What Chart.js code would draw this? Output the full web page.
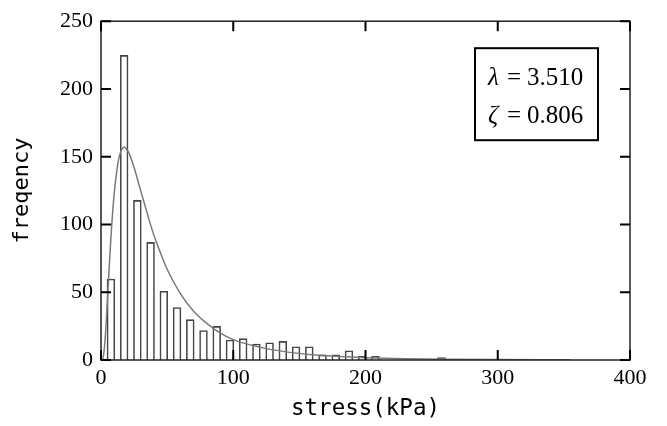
<!DOCTYPE html>
<html>
<head>
<meta charset="utf-8">
<script src="https://cdn.jsdelivr.net/npm/chart.js@4/dist/chart.umd.min.js"></script>
<style>
  html, body { margin: 0; padding: 0; background: #fff; }
</style>
</head>
<body>
<canvas id="grafico" width="667" height="426"></canvas>
<script>
// Centros de clase (kPa) y frecuencias del histograma
const centrosClase = [7.5, 17.5, 27.5, 37.5, 47.5, 57.5, 67.5, 77.5, 87.5, 97.5,
  107.5, 117.5, 127.5, 137.5, 147.5, 157.5, 167.5, 177.5, 187.5, 197.5,
  207.5, 217.5, 227.5, 237.5, 247.5, 257.5];
const frecuencias = [60, 225, 118, 87, 51, 39, 30, 22, 25, 15,
  16, 12, 13, 14, 10, 10, 4, 4, 7, 3,
  3, 0, 0, 0, 0, 2];

// Curva ajustada (lognormal)
const curvaX = [0, 1, 2, 3, 4, 5, 6, 7, 8, 10, 12, 14, 17.5, 21, 25, 30, 35, 40, 45, 50,
  60, 70, 80, 90, 100, 120, 140, 160, 180, 200, 230, 260, 300, 355];
const curvaY = [0, 0.3, 4.2, 14, 29, 47, 65, 82, 98, 123, 140, 151, 157, 153, 142, 125, 108, 92, 79, 67,
  49, 36, 27, 20, 15, 9.5, 6, 3.8, 2.5, 1.7, 1, 0.6, 0.3, 0.15];

// Parametros y etiquetas
const parametros = [["λ", "3.510"], ["ζ", "0.806"]];
const ticksX = [0, 100, 200, 300, 400];
const ticksY = [0, 50, 100, 150, 200, 250];

const fuenteNum = "'Liberation Serif', 'Times New Roman', serif";
const fuenteTitulo = "'DejaVu Sans Mono', monospace";

// Marco con marcas hacia dentro y cuadro de parametros
const marcoPlugin = {
  id: "marco",
  afterDatasetsDraw(chart) {
    const { ctx, chartArea: a, scales: { x, y } } = chart;
    const largo = 10;
    ctx.save();
    ctx.strokeStyle = "#222";
    ctx.lineWidth = 1.5;
    ctx.strokeRect(a.left, a.top, a.right - a.left, a.bottom - a.top);

    ctx.strokeStyle = "#000";
    ctx.lineWidth = 2;
    ctx.beginPath();
    ticksX.forEach((v) => {
      const px = x.getPixelForValue(v);
      ctx.moveTo(px, a.bottom);
      ctx.lineTo(px, a.bottom - largo);
      ctx.moveTo(px, a.top);
      ctx.lineTo(px, a.top + largo);
    });
    ticksY.forEach((v) => {
      const py = y.getPixelForValue(v);
      ctx.moveTo(a.left, py);
      ctx.lineTo(a.left + largo, py);
      ctx.moveTo(a.right, py);
      ctx.lineTo(a.right - largo, py);
    });
    ctx.stroke();

    // Cuadro de parametros
    const caja = { left: a.right - 155, top: a.top + 27, w: 123, h: 92 };
    ctx.lineWidth = 2;
    ctx.strokeRect(caja.left, caja.top, caja.w, caja.h);
    ctx.fillStyle = "#000";
    ctx.textBaseline = "alphabetic";
    parametros.forEach((p, i) => {
      const base = caja.top + 37 + i * 38;
      const x0 = caja.left + 13;
      ctx.font = "italic 25px " + fuenteNum;
      ctx.fillText(p[0], x0, base);
      ctx.font = "25px " + fuenteNum;
      ctx.fillText("=", x0 + 19, base);
      ctx.fillText(p[1], x0 + 39, base);
    });
    ctx.restore();
  },
};

const ctx = document.getElementById("grafico").getContext("2d");

new Chart(ctx, {
  type: "bar",
  data: {
    datasets: [
      {
        type: "line",
        data: curvaX.map((v, i) => ({ x: v, y: curvaY[i] })),
        borderColor: "#7a7a7a",
        borderWidth: 1.5,
        pointRadius: 0,
        fill: false,
        cubicInterpolationMode: "monotone",
        order: 0,
      },
      {
        type: "bar",
        data: centrosClase.map((v, i) => ({ x: v, y: frecuencias[i] })),
        backgroundColor: "rgba(255,255,255,0)",
        borderColor: "#444",
        borderWidth: 1.6,
        barPercentage: 0.64,
        categoryPercentage: 1,
        order: 1,
      },
    ],
  },
  options: {
    responsive: false,
    animation: false,
    layout: { padding: { left: 0, right: 37, top: 18, bottom: 0 } },
    plugins: { legend: { display: false }, tooltip: { enabled: false } },
    scales: {
      x: {
        type: "linear",
        offset: false,
        min: 0,
        max: 400,
        grid: { display: false, drawTicks: false, offset: false },
        border: { display: false },
        ticks: {
          stepSize: 100,
          color: "#000",
          padding: 5,
          font: { family: fuenteNum, size: 22 },
        },
        title: {
          display: true,
          text: "stress(kPa)",
          color: "#000",
          font: { family: fuenteTitulo, size: 22.5 },
          padding: { top: 4, bottom: 3 },
        },
        afterFit: (s) => { s.height = 66; },
      },
      y: {
        min: 0,
        max: 250,
        grid: { display: false, drawTicks: false },
        border: { display: false },
        ticks: {
          stepSize: 50,
          color: "#000",
          padding: 8,
          font: { family: fuenteNum, size: 22 },
        },
        title: {
          display: true,
          text: "freqency",
          color: "#000",
          font: { family: fuenteTitulo, size: 22 },
          padding: { top: 9, bottom: 0 },
        },
        afterFit: (s) => { s.width = 101; },
      },
    },
  },
  plugins: [marcoPlugin],
});
</script>
</body>
</html>
